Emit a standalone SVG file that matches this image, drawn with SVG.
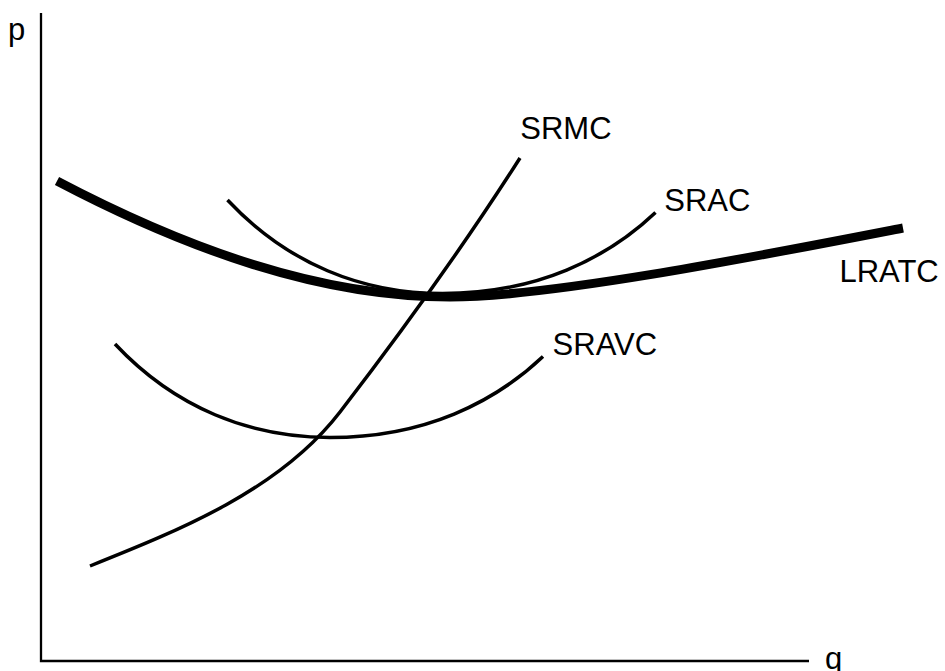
<svg xmlns="http://www.w3.org/2000/svg" width="945" height="671" viewBox="0 0 945 671">
<style>
.lbl{font-family:"Liberation Sans",Arial,sans-serif;font-size:31px;fill:#000}
.ax{stroke:#000;stroke-width:2.3;fill:none}
.thin{stroke:#000;stroke-width:3.5;fill:none;stroke-linecap:butt}
.thick{stroke:#000;stroke-width:9;fill:none;stroke-linecap:butt}
</style>
<rect width="945" height="671" fill="#fff"/>
<g id="axes">
<path class="ax" d="M41,13 V661 H809"/>
<text class="lbl" x="8" y="40">p</text>
<text class="lbl" x="825" y="669">q</text>
</g>
<g id="connectors">
<path id="LRATC-curve" class="thick" d="M57,181 C187,249.3 320,297 450,297 C550,297 753,257.1 903,228"/>
<path id="SRAC-curve" class="thin" d="M227.5,200 C287.5,264 362.5,293.5 442.5,293.5 C537.5,293.5 607.5,258 655.5,212.5"/>
<path id="SRAVC-curve" class="thin" d="M115,344 C175,408 250,437.5 330,437.5 C425,437.5 495,402 543,356.5"/>
<path id="SRMC-curve" class="thin" d="M90,566 C180,530 280,490 340,412 C400,334 460,252 520,158"/>
</g>
<g id="SRMC"><text class="lbl" x="520.3" y="139.3">SRMC</text></g>
<g id="SRAC"><text class="lbl" x="664.3" y="210.7">SRAC</text></g>
<g id="LRATC"><text class="lbl" x="839.4" y="281.7">LRATC</text></g>
<g id="SRAVC"><text class="lbl" x="552.6" y="355">SRAVC</text></g>
</svg>
